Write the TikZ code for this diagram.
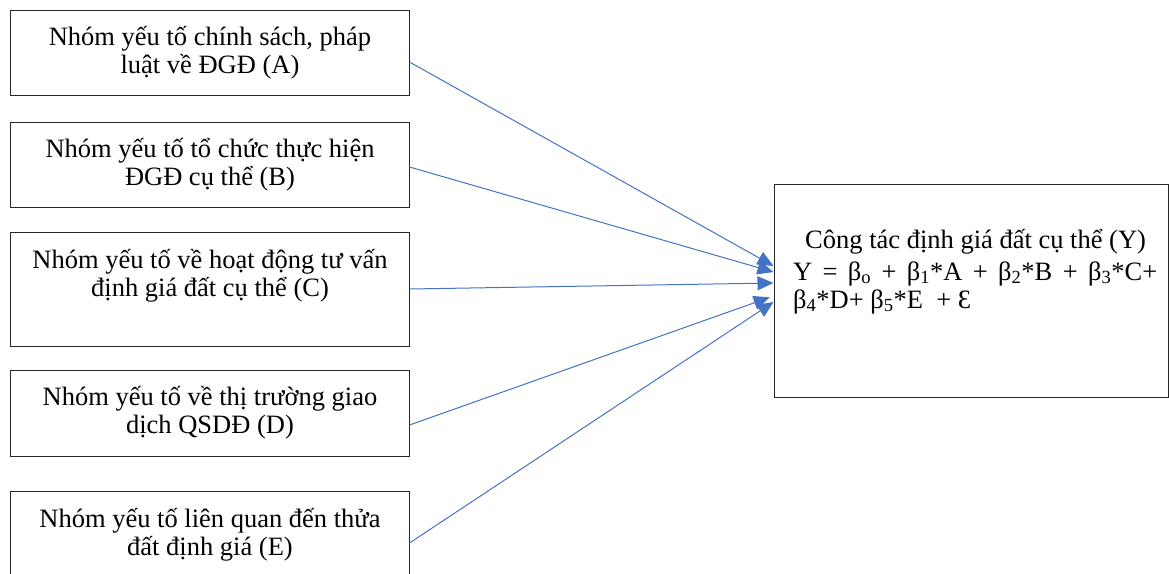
\documentclass[tikz,border=0pt]{standalone}
\usepackage{fontspec}
\setmainfont{Liberation Serif}
\usetikzlibrary{arrows.meta}
\definecolor{linkblue}{HTML}{4472C4}
\tikzset{
  factor/.style={draw=black!85, line width=1pt, rectangle, minimum width=399pt, inner sep=0pt},
  outcome/.style={draw=black!85, line width=1pt, rectangle, minimum width=394pt, minimum height=213pt, inner sep=0pt},
  txt/.style={inner sep=0pt, align=center, font=\fontsize{26.5}{28}\selectfont},
  ltxt/.style={inner sep=0pt, font=\fontsize{26.5}{28}\selectfont},
  conn/.style={linkblue, line width=1pt, -{Triangle[length=16pt,width=14pt]}}
}
\newcommand{\firstline}{\rule{0pt}{22pt}}
\begin{document}
\begin{tikzpicture}[x=1pt,y=-1pt]
\useasboundingbox (0,0) rectangle (1169,573);
\clip (0,0) rectangle (1169,573);
% factor boxes
\node[factor, minimum height=85pt]  (A) at (209.5,52.5) {};
\node[factor, minimum height=85pt]  (B) at (209.5,164.5) {};
\node[factor, minimum height=114pt] (C) at (209.5,289) {};
\node[factor, minimum height=86pt]  (D) at (209.5,413) {};
\node[factor, minimum height=85pt]  (E) at (209.5,533.5) {};
% outcome box
\node[outcome] (Y) at (971,290.5) {};
% factor labels
\node[txt, anchor=north] (At) at (210,23) {\firstline Nhóm yếu tố chính sách, pháp\\luật về ĐGĐ (A)};
\node[txt, anchor=north] (Bt) at (210,135) {\firstline Nhóm yếu tố tổ chức thực hiện\\ĐGĐ cụ thể (B)};
\node[txt, anchor=north] (Ct) at (210,246) {\firstline Nhóm yếu tố về hoạt động tư vấn\\định giá đất cụ thể (C)};
\node[txt, anchor=north] (Dt) at (210,383) {\firstline Nhóm yếu tố về thị trường giao\\dịch QSDĐ (D)};
\node[txt, anchor=north] (Et) at (210,505) {\firstline Nhóm yếu tố liên quan đến thửa\\đất định giá (E)};
% outcome label and model
\node[ltxt, anchor=base west] (Yt) at (805,248) {Công tác định giá đất cụ thể (Y)};
\node[ltxt, anchor=base west] (Y1) at (793,280) {\makebox[364pt][s]{Y = β\textsubscript{o} + β\textsubscript{1}*A + β\textsubscript{2}*B + β\textsubscript{3}*C+}};
\node[ltxt, anchor=base west] (Y2) at (793,308) {β\textsubscript{4}*D+ β\textsubscript{5}*E \ + Ɛ};
% connectors
\draw[conn] ([yshift=-9.5pt]A.east) -- ([yshift=24.5pt]Y.west);
\draw[conn] ([yshift=-2.5pt]B.east) -- ([yshift=18.5pt]Y.west);
\draw[conn] (C.east) -- ([yshift=7.5pt]Y.west);
\draw[conn, shorten >=4pt] ([yshift=-12pt]D.east) -- ([yshift=-5.5pt]Y.west);
\draw[conn] ([yshift=-9.5pt]E.east) -- ([yshift=-11.5pt]Y.west);
\end{tikzpicture}
\end{document}
